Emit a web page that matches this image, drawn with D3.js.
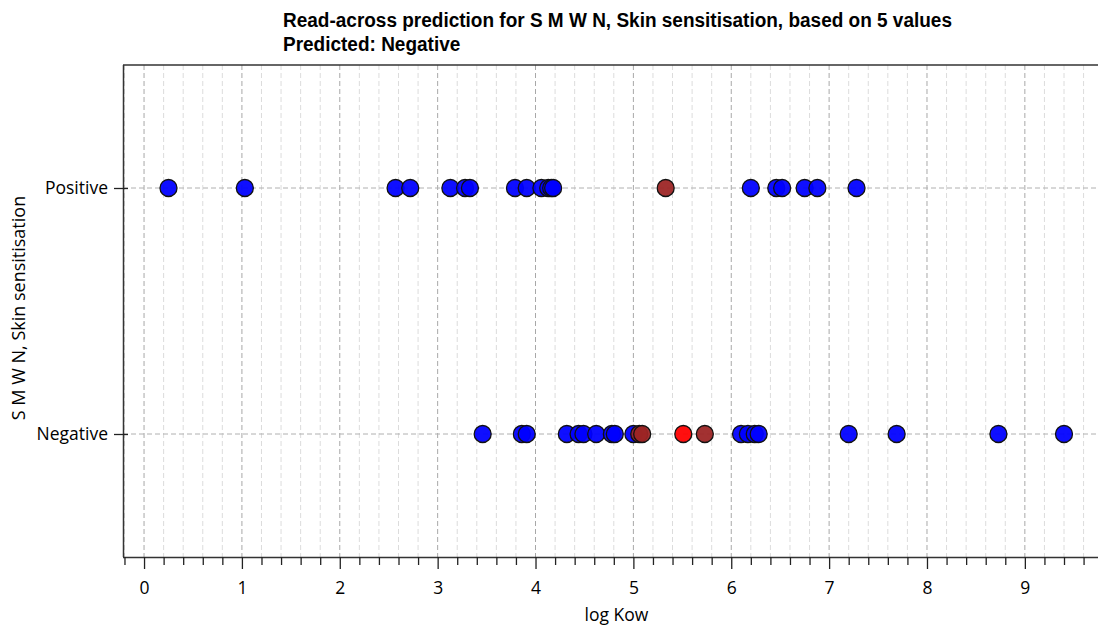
<!DOCTYPE html>
<html>
<head>
<meta charset="utf-8">
<script src="https://cdn.jsdelivr.net/npm/d3@7"></script>
<style>
  html, body { margin: 0; padding: 0; background: #fff; }
  svg { display: block; }
</style>
</head>
<body>
<svg id="chart" width="1098" height="625"></svg>
<script>
// ---- data ----
const categories = ["Negative", "Positive"];
const titleLines = ["Read-across prediction for S M W N, Skin sensitisation, based on 5 values", "Predicted: Negative"];
const xLabel = "log Kow";
const yLabel = "S M W N, Skin sensitisation";
const xTicks = [0, 1, 2, 3, 4, 5, 6, 7, 8, 9];

// other substances (blue)
const positiveValues = [0.25, 1.03, 2.57, 2.72, 3.13, 3.28, 3.33, 3.79, 3.91, 4.06, 4.13, 4.16, 4.18,
                        6.20, 6.46, 6.52, 6.75, 6.88, 7.28];
const negativeValues = [3.46, 3.86, 3.91, 4.32, 4.44, 4.49, 4.62, 4.78, 4.81, 5.00,
                        6.10, 6.17, 6.24, 6.28, 7.20, 7.69, 8.73, 9.40];
// analogues used for the prediction (brown)
const analoguePositive = [5.33];
const analogueNegative = [5.06, 5.09, 5.73];
// target substance (red)
const targetNegative = [5.51];

// ---- layout ----
(function () {
const svg = d3.select("#chart");
const pLeft = 123, pRight = 1110, pTop = 65, pBottom = 557;
const x = d3.scaleLinear().domain([-0.215, 9.87]).range([pLeft, pRight]);
const y = d3.scaleLinear().domain([-0.5, 1.5]).range([pBottom, pTop]);
const catY = c => y(categories.indexOf(c));

const fontMain = "'Open Sans', 'Noto Sans', sans-serif";

// grid
const allMinor = d3.range(-0.2, 9.81, 0.2).map(v => +v.toFixed(1));
const minorTicks = allMinor.filter(v => Math.abs(v - Math.round(v)) > 1e-6);
const g = svg.append("g");
g.selectAll("line.minor").data(minorTicks)
  .join("line").attr("class", "minor")
  .attr("x1", d => x(d)).attr("x2", d => x(d)).attr("y1", pTop).attr("y2", pBottom)
  .attr("stroke", "#dcdcdc").attr("stroke-width", 1).attr("stroke-dasharray", "5,3");
g.selectAll("line.major").data(xTicks)
  .join("line").attr("class", "major")
  .attr("x1", d => x(d)).attr("x2", d => x(d)).attr("y1", pTop).attr("y2", pBottom)
  .attr("stroke", "#a8a8a8").attr("stroke-width", 1).attr("stroke-dasharray", "5,3");
g.selectAll("line.hgrid").data(categories)
  .join("line").attr("class", "hgrid")
  .attr("x1", pLeft).attr("x2", pRight).attr("y1", d => catY(d)).attr("y2", d => catY(d))
  .attr("stroke", "#b0b0b0").attr("stroke-width", 1).attr("stroke-dasharray", "5,3");

// frame (top)
svg.append("line").attr("x1", pLeft).attr("x2", pRight).attr("y1", pTop).attr("y2", pTop)
  .attr("stroke", "#333").attr("stroke-width", 1.5);

// x axis
const xAxis = svg.append("g").attr("transform", `translate(0,${pBottom})`)
  .call(d3.axisBottom(x).tickValues(xTicks).tickSize(12).tickPadding(13).tickFormat(d3.format("d")));
svg.append("g").attr("transform", `translate(0,${pBottom})`)
  .call(d3.axisBottom(x).tickValues(minorTicks).tickSize(8).tickFormat(""))
  .call(s => s.select(".domain").remove());
xAxis.select(".domain").attr("d", `M${pLeft},0.5H${pRight}`).attr("stroke", "#333").attr("stroke-width", 1.5);
svg.selectAll(".tick line").attr("stroke", "#222").attr("stroke-width", 1.3);
xAxis.selectAll("text").attr("font-family", fontMain).attr("font-size", 17.5).attr("fill", "#000");

// y axis
const yAxis = svg.append("g").attr("transform", `translate(${pLeft},0)`)
  .call(d3.axisLeft(y).tickValues([0, 1]).tickSize(9).tickPadding(6).tickFormat(d => categories[d]));
yAxis.select(".domain").attr("d", `M0.5,${pTop}V${pBottom}`).attr("stroke", "#333").attr("stroke-width", 1.5);
yAxis.selectAll(".tick line").attr("stroke", "#222").attr("stroke-width", 1.3).attr("x2", -9).attr("x1", 5);
yAxis.selectAll("text").attr("font-family", fontMain).attr("font-size", 17.5).attr("fill", "#000");

// axis titles
svg.append("text").attr("x", (pLeft + pRight) / 2).attr("y", 621).attr("text-anchor", "middle")
  .attr("font-family", fontMain).attr("font-size", 17.5).text(xLabel);
svg.append("text").attr("transform", `translate(25,${(pTop + pBottom) / 2 - 3}) rotate(-90)`)
  .attr("text-anchor", "middle").attr("font-family", fontMain).attr("font-size", 18).text(yLabel);

// title (condensed bold look)
const titleFont = "'Liberation Sans', Arial, sans-serif";
const tfs = 19.5;
const tx = 283;
const t1 = svg.append("text").attr("x", tx).attr("y", 27).attr("font-family", titleFont).attr("font-weight", "bold")
  .attr("font-size", tfs).text(titleLines[0]);
const w1 = t1.node().getComputedTextLength();
const ratio = 669 / w1;
t1.attr("textLength", 669).attr("lengthAdjust", "spacingAndGlyphs");
const t2 = svg.append("text").attr("x", tx).attr("y", 51).attr("font-family", titleFont).attr("font-weight", "bold")
  .attr("font-size", tfs).text(titleLines[1]);
const w2 = t2.node().getComputedTextLength();
t2.attr("textLength", w2 * ratio).attr("lengthAdjust", "spacingAndGlyphs");

// points
const pts = [];
positiveValues.forEach(v => pts.push({v, c: "Positive", col: "#0000ff"}));
negativeValues.forEach(v => pts.push({v, c: "Negative", col: "#0000ff"}));
analoguePositive.forEach(v => pts.push({v, c: "Positive", col: "#9c2424"}));
analogueNegative.forEach(v => pts.push({v, c: "Negative", col: "#9c2424"}));
targetNegative.forEach(v => pts.push({v, c: "Negative", col: "#ff0000"}));

svg.append("g").selectAll("circle").data(pts).join("circle")
  .attr("cx", d => x(d.v)).attr("cy", d => catY(d.c)).attr("r", 8.5)
  .attr("fill", d => d.col).attr("fill-opacity", 0.94)
  .attr("stroke", "#111").attr("stroke-width", 1.3);
})();
</script>
</body>
</html>
